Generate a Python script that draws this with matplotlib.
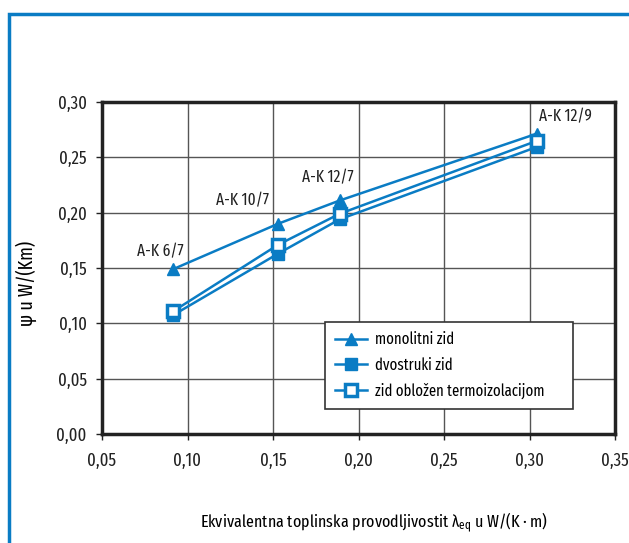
import matplotlib.pyplot as plt
from matplotlib.patches import Rectangle

fam = 'Fira Sans Extra Condensed'
plt.rcParams['font.family'] = [fam, 'DejaVu Sans']
plt.rcParams['font.size'] = 12
plt.rcParams['mathtext.fontset'] = 'custom'
plt.rcParams['mathtext.rm'] = fam
plt.rcParams['mathtext.it'] = fam
plt.rcParams['mathtext.bf'] = fam

lam = [0.0917, 0.153, 0.189, 0.3045]
monolitni = [0.149, 0.190, 0.211, 0.2715]
dvostruki = [0.1075, 0.163, 0.194, 0.2595]
oblozen = [0.111, 0.171, 0.199, 0.265]
labels = ['A-K 6/7', 'A-K 10/7', 'A-K 12/7', 'A-K 12/9']
label_pos = [(0.0842, 0.165), (0.1322, 0.2105), (0.182, 0.2315), (0.3208, 0.287)]
xticks = [0.05, 0.10, 0.15, 0.20, 0.25, 0.30, 0.35]
yticks = [0.00, 0.05, 0.10, 0.15, 0.20, 0.25, 0.30]

blue = '#0a7cc4'

fig = plt.figure(figsize=(6.29, 5.43), dpi=100)
fig.patches.append(Rectangle((9 / 629, -0.1), 1.2, 1 - 14 / 543 + 0.1,
                             transform=fig.transFigure, fill=False,
                             edgecolor=blue, linewidth=2.5))
ax = fig.add_axes([102 / 629, 1 - 434 / 543, 513 / 629, 332 / 543])

ax.plot(lam, monolitni, color=blue, lw=1.8, marker='^', ms=9, label='monolitni zid')
ax.plot(lam, dvostruki, color=blue, lw=1.8, marker='s', ms=8.5, label='dvostruki zid')
ax.plot(lam, oblozen, color=blue, lw=1.8, marker='s', ms=8, mfc='white',
        mec=blue, mew=2.5, label='zid obložen termoizolacijom')

for t, (x, y) in zip(labels, label_pos):
    ax.text(x, y, t, ha='center', va='center', fontsize=12, color='#222222')

ax.set_xlim(0.05, 0.35)
ax.set_ylim(0, 0.30)
ax.set_xticks(xticks)
ax.set_yticks(yticks)
ax.set_xticklabels(['{:.2f}'.format(v).replace('.', ',') for v in xticks])
ax.set_yticklabels(['{:.2f}'.format(v).replace('.', ',') for v in yticks])
ax.tick_params(direction='out', length=4, width=1, labelsize=13, colors='#222222')
ax.tick_params(axis='x', pad=9)
ax.tick_params(axis='y', pad=7)
ax.grid(True, color='#555555', lw=1)
for s in ax.spines.values():
    s.set_linewidth(2.5)
    s.set_color('#222222')

ax.set_ylabel('ψ u W/(Km)', fontsize=14)
ax.yaxis.set_label_coords(-65 / 513, 0.452)
fig.text(374 / 629, 1 - 523 / 543,
         r'Ekvivalentna toplinska provodljivostit $\lambda_{eq}$ u W/(K · m)',
         ha='center', va='center', fontsize=12.5)

leg = ax.legend(loc='upper left', bbox_to_anchor=(325 / 629, 1 - 322 / 543, 248 / 629, 0),
                bbox_transform=fig.transFigure, mode='expand', fancybox=False,
                edgecolor='#333333', framealpha=1, fontsize=11.5, handlelength=2,
                handletextpad=0.5, borderpad=0.6, borderaxespad=0, labelspacing=0.6)
leg.get_frame().set_linewidth(1.2)

fig.savefig('out.png', dpi=100)
